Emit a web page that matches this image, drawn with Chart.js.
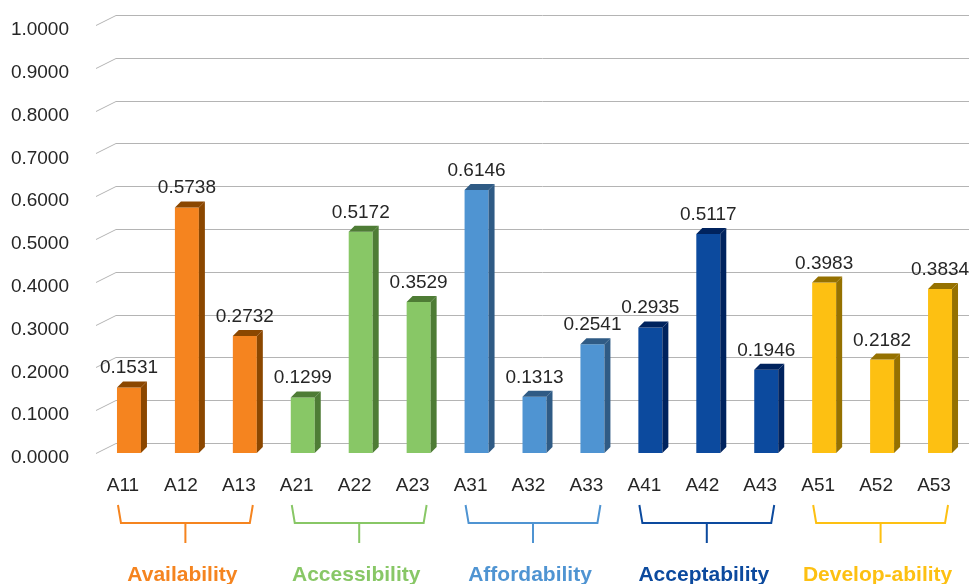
<!DOCTYPE html>
<html>
<head>
<meta charset="utf-8">
<script src="https://cdn.jsdelivr.net/npm/chart.js@4/dist/chart.umd.min.js"></script>
<style>
  html, body { margin: 0; padding: 0; background: #fff; }
  #wrap { width: 969px; height: 584px; position: relative; }
</style>
</head>
<body>
<div id="wrap"><canvas id="chart"></canvas></div>
<script>
const CATS   = ['A11','A12','A13','A21','A22','A23','A31','A32','A33','A41','A42','A43','A51','A52','A53'];
const VALUES = [0.1531, 0.5738, 0.2732, 0.1299, 0.5172, 0.3529, 0.6146, 0.1313, 0.2541, 0.2935, 0.5117, 0.1946, 0.3983, 0.2182, 0.3834];
const GROUPS = ['Availability', 'Accessibility', 'Affordability', 'Acceptability', 'Develop-ability'];
const Y_MIN = 0, Y_MAX = 1, Y_STEP = 0.1;

const FRONT = ['#F5841F', '#88C766', '#4F94D2', '#0C4A9E', '#FDC012'];
const SIDE  = ['#8B4700', '#4E7C35', '#2F5B85', '#00235E', '#957100'];
const FONT  = '"Liberation Sans", Arial, sans-serif';

const grpOf = i => Math.floor(i / 3);

// floor/back-wall gridlines, drawn behind the bars
const gridPlugin = {
  id: 'grid3d',
  beforeDatasetsDraw(chart) {
    const { ctx, chartArea, scales: { y } } = chart;
    ctx.save();
    ctx.strokeStyle = '#b4b4b4';
    ctx.lineWidth = 1;
    for (let v = Y_MIN; v <= Y_MAX + 1e-9; v += Y_STEP) {
      const py = Math.round(y.getPixelForValue(v)) + 0.5;
      ctx.beginPath();
      ctx.moveTo(chartArea.left - 4, py);
      ctx.lineTo(chartArea.left + 16, py - 10);
      ctx.lineTo(chartArea.right, py - 10);
      ctx.stroke();
    }
    ctx.restore();
  }
};

// side + top faces, value labels, group brackets
const boxPlugin = {
  id: 'box3d',
  afterDatasetsDraw(chart) {
    const { ctx, scales: { x } } = chart;
    const meta = chart.getDatasetMeta(0);
    const d = 6;
    ctx.save();
    meta.data.forEach((bar, i) => {
      const { x: cx, y: top, base, width } = bar.getProps(['x', 'y', 'base', 'width'], true);
      const l = cx - width / 2, r = cx + width / 2;
      ctx.fillStyle = SIDE[grpOf(i)];
      ctx.beginPath();
      ctx.moveTo(r, top); ctx.lineTo(r + d, top - d);
      ctx.lineTo(r + d, base - d); ctx.lineTo(r, base);
      ctx.closePath(); ctx.fill();
      ctx.beginPath();
      ctx.moveTo(l, top); ctx.lineTo(l + d, top - d);
      ctx.lineTo(r + d, top - d); ctx.lineTo(r, top);
      ctx.closePath(); ctx.fill();

      ctx.fillStyle = '#262626';
      ctx.font = '19px ' + FONT;
      ctx.textAlign = 'center';
      ctx.textBaseline = 'alphabetic';
      ctx.fillText(VALUES[i].toFixed(4), cx, top - 14);
    });

    GROUPS.forEach((name, g) => {
      const x0 = x.getPixelForValue(g * 3) - 11;
      const x1 = x.getPixelForValue(g * 3 + 2) + 8;
      const mid = (x0 + x1) / 2;
      ctx.strokeStyle = FRONT[g];
      ctx.lineWidth = 2;
      ctx.beginPath();
      ctx.moveTo(x0, 505); ctx.lineTo(x0 + 3, 523);
      ctx.lineTo(x1 - 3, 523); ctx.lineTo(x1, 505);
      ctx.moveTo(mid, 523); ctx.lineTo(mid, 543);
      ctx.stroke();

      ctx.fillStyle = FRONT[g];
      ctx.font = 'bold 21px ' + FONT;
      ctx.textAlign = 'center';
      ctx.fillText(name, mid - 3, 581);
    });
    ctx.restore();
  }
};

new Chart(document.getElementById('chart'), {
  type: 'bar',
  data: {
    labels: CATS,
    datasets: [{
      data: VALUES,
      backgroundColor: VALUES.map((v, i) => FRONT[grpOf(i)]),
      borderWidth: 0,
      barPercentage: 0.414,
      categoryPercentage: 1
    }]
  },
  options: {
    responsive: true, maintainAspectRatio: false,
    animation: false,
    layout: { padding: { top: 25, right: 0, left: 0, bottom: 0 } },
    plugins: { legend: { display: false }, tooltip: { enabled: false } },
    scales: {
      x: {
        grid: { display: false, drawTicks: false },
        border: { display: false },
        ticks: { color: '#262626', font: { size: 19, family: FONT }, padding: 21, labelOffset: -6, maxRotation: 0 },
        afterFit: s => { s.height = 131; s.paddingLeft = 0; s.paddingRight = 0; }
      },
      y: {
        min: Y_MIN, max: Y_MAX,
        grid: { display: false, drawTicks: false },
        border: { display: false },
        ticks: { stepSize: Y_STEP, color: '#262626', font: { size: 19, family: FONT }, padding: 31, labelOffset: 5,
                 callback: v => v.toFixed(4) },
        afterFit: s => { s.width = 100; s.paddingTop = 0; s.paddingBottom = 0; }
      }
    }
  },
  plugins: [gridPlugin, boxPlugin]
});
</script>
</body>
</html>
